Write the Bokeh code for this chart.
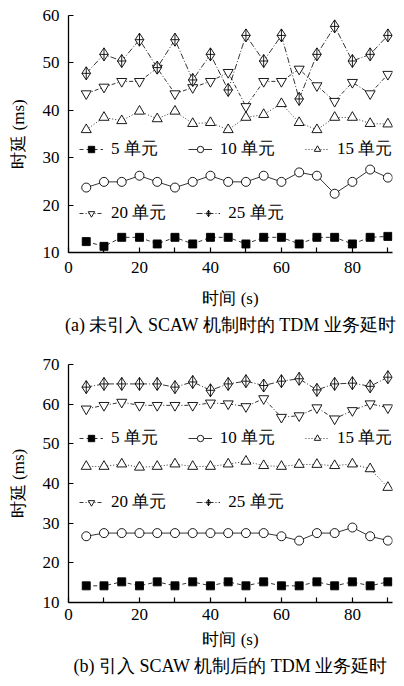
from bokeh.plotting import figure
from bokeh.models import Range1d, FixedTicker, Legend, LegendItem, Title
from bokeh.layouts import column
from bokeh.embed import file_html
from bokeh.resources import INLINE

x = [5, 10, 15, 20, 25, 30, 35, 40, 45, 50, 55, 60, 65, 70, 75, 80, 85, 90]

a5 = [12.3, 11.3, 13.2, 13.2, 11.8, 13.2, 11.8, 13.2, 13.2, 11.8, 13.2, 13.2, 11.8, 13.2, 13.2, 11.8, 13.2, 13.4]
a10 = [23.7, 24.9, 24.9, 26.2, 24.9, 23.7, 24.9, 26.2, 24.9, 24.9, 26.2, 24.9, 26.9, 26.2, 22.4, 24.9, 27.5, 25.8]
a15 = [35.9, 38.5, 37.8, 39.8, 38.2, 39.8, 37.2, 37.4, 35.9, 38.5, 39.1, 41.4, 37.4, 35.9, 38.5, 38.5, 37.2, 37.1]
a20 = [43.5, 44.9, 46.1, 46.1, 48.9, 43.5, 44.8, 46.1, 48.0, 40.8, 46.1, 46.1, 48.7, 45.2, 41.9, 45.9, 43.5, 47.6]
a25 = [47.8, 51.8, 50.4, 54.9, 49.0, 54.9, 46.4, 51.8, 44.3, 55.8, 50.4, 55.8, 42.4, 51.8, 57.7, 50.4, 51.8, 55.8]

b5 = [14.2, 14.2, 15.2, 14.2, 15.2, 14.2, 15.2, 14.2, 15.2, 14.2, 15.2, 14.2, 14.2, 15.2, 14.2, 15.2, 14.2, 15.2]
b10 = [26.7, 27.5, 27.5, 27.5, 27.5, 27.5, 27.5, 27.5, 27.5, 27.5, 27.5, 26.7, 25.6, 27.5, 27.5, 28.9, 26.7, 25.6]
b15 = [44.3, 44.3, 44.9, 44.1, 44.3, 44.9, 44.3, 44.3, 44.9, 45.6, 44.5, 44.3, 44.8, 44.8, 44.5, 44.9, 43.7, 39.0]
b20 = [58.8, 59.7, 60.5, 59.7, 59.7, 59.7, 59.7, 60.3, 60.1, 59.4, 61.4, 56.7, 57.1, 59.1, 56.3, 58.4, 60.1, 59.1]
b25 = [64.3, 65.1, 65.1, 65.1, 65.1, 64.3, 65.6, 63.5, 65.1, 65.8, 64.7, 65.8, 66.4, 63.6, 65.1, 65.3, 64.5, 66.8]

labels = ["5 单元", "10 单元", "15 单元", "20 单元", "25 单元"]
x_label = "时间 (s)"
y_label = "时延 (ms)"
captions = ["(a) 未引入 SCAW 机制时的 TDM 业务延时", "(b) 引入 SCAW 机制后的 TDM 业务延时"]

FONT = "Liberation Serif"

styles = [
    dict(marker="square", size=8, fill="black", dash="4 3"),
    dict(marker="circle", size=9, fill="white", dash="solid"),
    dict(marker="triangle", size=10, fill="white", dash="1 2"),
    dict(marker="inverted_triangle", size=10, fill="white", dash="4 2 1 2"),
    dict(marker="diamond_cross", size=13, fill="white", dash="6 2 1 2"),
]


def make_fig(series, ymax, height, top, bottom, caption, loc1, loc2,
             tick_standoff, xlab_standoff, cap_standoff):
    p = figure(width=404, height=height, output_backend="svg", toolbar_location=None,
               x_range=Range1d(0, 91.3), y_range=Range1d(10, ymax),
               min_border_left=68, min_border_right=12, min_border_top=top,
               min_border_bottom=bottom)
    p.outline_line_color = None
    p.grid.visible = False
    p.background_fill_color = "white"
    p.border_fill_color = "white"

    p.xaxis.ticker = FixedTicker(ticks=[0, 20, 40, 60, 80], minor_ticks=[10, 30, 50, 70, 90])
    p.yaxis.ticker = FixedTicker(ticks=list(range(10, ymax + 1, 10)))
    for ax in (p.xaxis, p.yaxis):
        ax.major_tick_in = 5
        ax.major_tick_out = 0
        ax.minor_tick_in = 5
        ax.minor_tick_out = 0
        ax.axis_line_width = 1.3
        ax.major_tick_line_width = 1.2
        ax.minor_tick_line_width = 1.2
        ax.axis_line_color = "black"
        ax.major_tick_line_color = "black"
        ax.minor_tick_line_color = "black"
        ax.major_label_text_font = FONT
        ax.major_label_text_font_size = "17px"
        ax.major_label_text_color = "black"
        ax.axis_label_text_font = FONT
        ax.axis_label_text_font_size = "17px"
        ax.axis_label_text_font_style = "normal"
        ax.axis_label_text_color = "black"
    p.yaxis.major_label_standoff = 9
    p.xaxis.major_label_standoff = tick_standoff
    p.xaxis.axis_label_standoff = xlab_standoff
    p.yaxis.axis_label_standoff = 12
    p.yaxis.minor_tick_line_color = None
    p.xaxis.axis_label = x_label
    p.yaxis.axis_label = y_label

    items = []
    for ys, st, lab in zip(series, styles, labels):
        lr = p.line(x, ys, line_color="black", line_width=0.8, line_dash=st["dash"])
        sr = p.scatter(x, ys, marker=st["marker"], size=st["size"], fill_color=st["fill"],
                       line_color="black", line_width=0.9)
        items.append(LegendItem(label=lab, renderers=[lr, sr]))

    for its, loc in ((items[:3], loc1), (items[3:], loc2)):
        lg = Legend(items=its, location=loc, orientation="horizontal",
                    padding=0, margin=0, spacing=30, glyph_width=24, glyph_height=16,
                    label_standoff=8, label_height=16,
                    label_text_font=FONT, label_text_font_size="17px",
                    label_text_color="black",
                    background_fill_alpha=0, border_line_color=None)
        p.add_layout(lg, "center")

    t = Title(text=caption, align="center", text_font=FONT, text_font_size="18px",
              text_font_style="normal", text_color="black", standoff=cap_standoff)
    p.add_layout(t, "below")
    return p


pa = make_fig([a5, a10, a15, a20, a25], 60, 340, 15, 88, captions[0], (11, 92), (11, 28),
              9, 13, 5)
pb = make_fig([b5, b10, b15, b20, b25], 70, 346, 24, 84, captions[1], (11, 153), (11, 89),
              6, 7, 4)

layout = column(pa, pb, spacing=0)
open("out.html", "w").write(file_html(layout, INLINE))
